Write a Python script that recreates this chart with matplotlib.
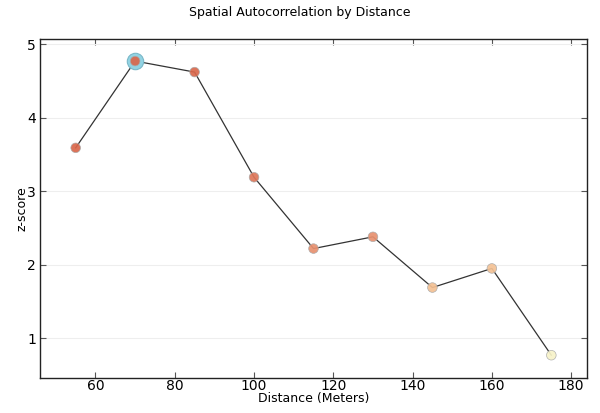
import matplotlib
matplotlib.use("Agg")
import matplotlib.pyplot as plt

distance = [55, 70, 85, 100, 115, 130, 145, 160, 175]
zscore = [3.59, 4.77, 4.62, 3.19, 2.22, 2.38, 1.69, 1.95, 0.77]
colors = ["#d9674b", "#d9674b", "#d9684c", "#de775a", "#e8906f", "#e8916f",
          "#f4c093", "#f4c295", "#f7f3c9"]

fig = plt.figure(figsize=(6, 4.13), dpi=100)
ax = fig.add_axes([40/600, 1 - 378/413, 547/600, 339/413])

imax = zscore.index(max(zscore))
ax.plot(distance, zscore, color="#333333", lw=0.9, zorder=2)
ax.scatter([distance[imax]], [zscore[imax]], s=140, color="#92d3e3",
           edgecolors="#7ab8c8", linewidths=0.8, zorder=3)
ax.scatter(distance, zscore, s=48, c=colors, edgecolors="#aaaaaa",
           linewidths=0.5, alpha=0.92, zorder=4)

ax.set_xlim(46, 184)
ax.set_ylim(0.46, 5.07)
ax.set_xticks([60, 80, 100, 120, 140, 160, 180])
ax.set_yticks([1, 2, 3, 4, 5])
ax.yaxis.grid(True, color="#eeeeee", lw=0.8)
ax.set_axisbelow(True)
ax.tick_params(direction="in", top=True, right=True, length=4, labelsize=10,
               color="#555555")
ax.tick_params(axis="x", pad=1)
ax.tick_params(axis="y", pad=3)
for s in ax.spines.values():
    s.set_color("#222222")
    s.set_linewidth(1.0)

ax.set_xlabel("Distance (Meters)", fontsize=9, labelpad=-1)
ax.set_ylabel("z-score", fontsize=9, labelpad=-1)
fig.suptitle("Spatial Autocorrelation by Distance", fontsize=9, y=0.985)

fig.savefig("out.png", dpi=100)
